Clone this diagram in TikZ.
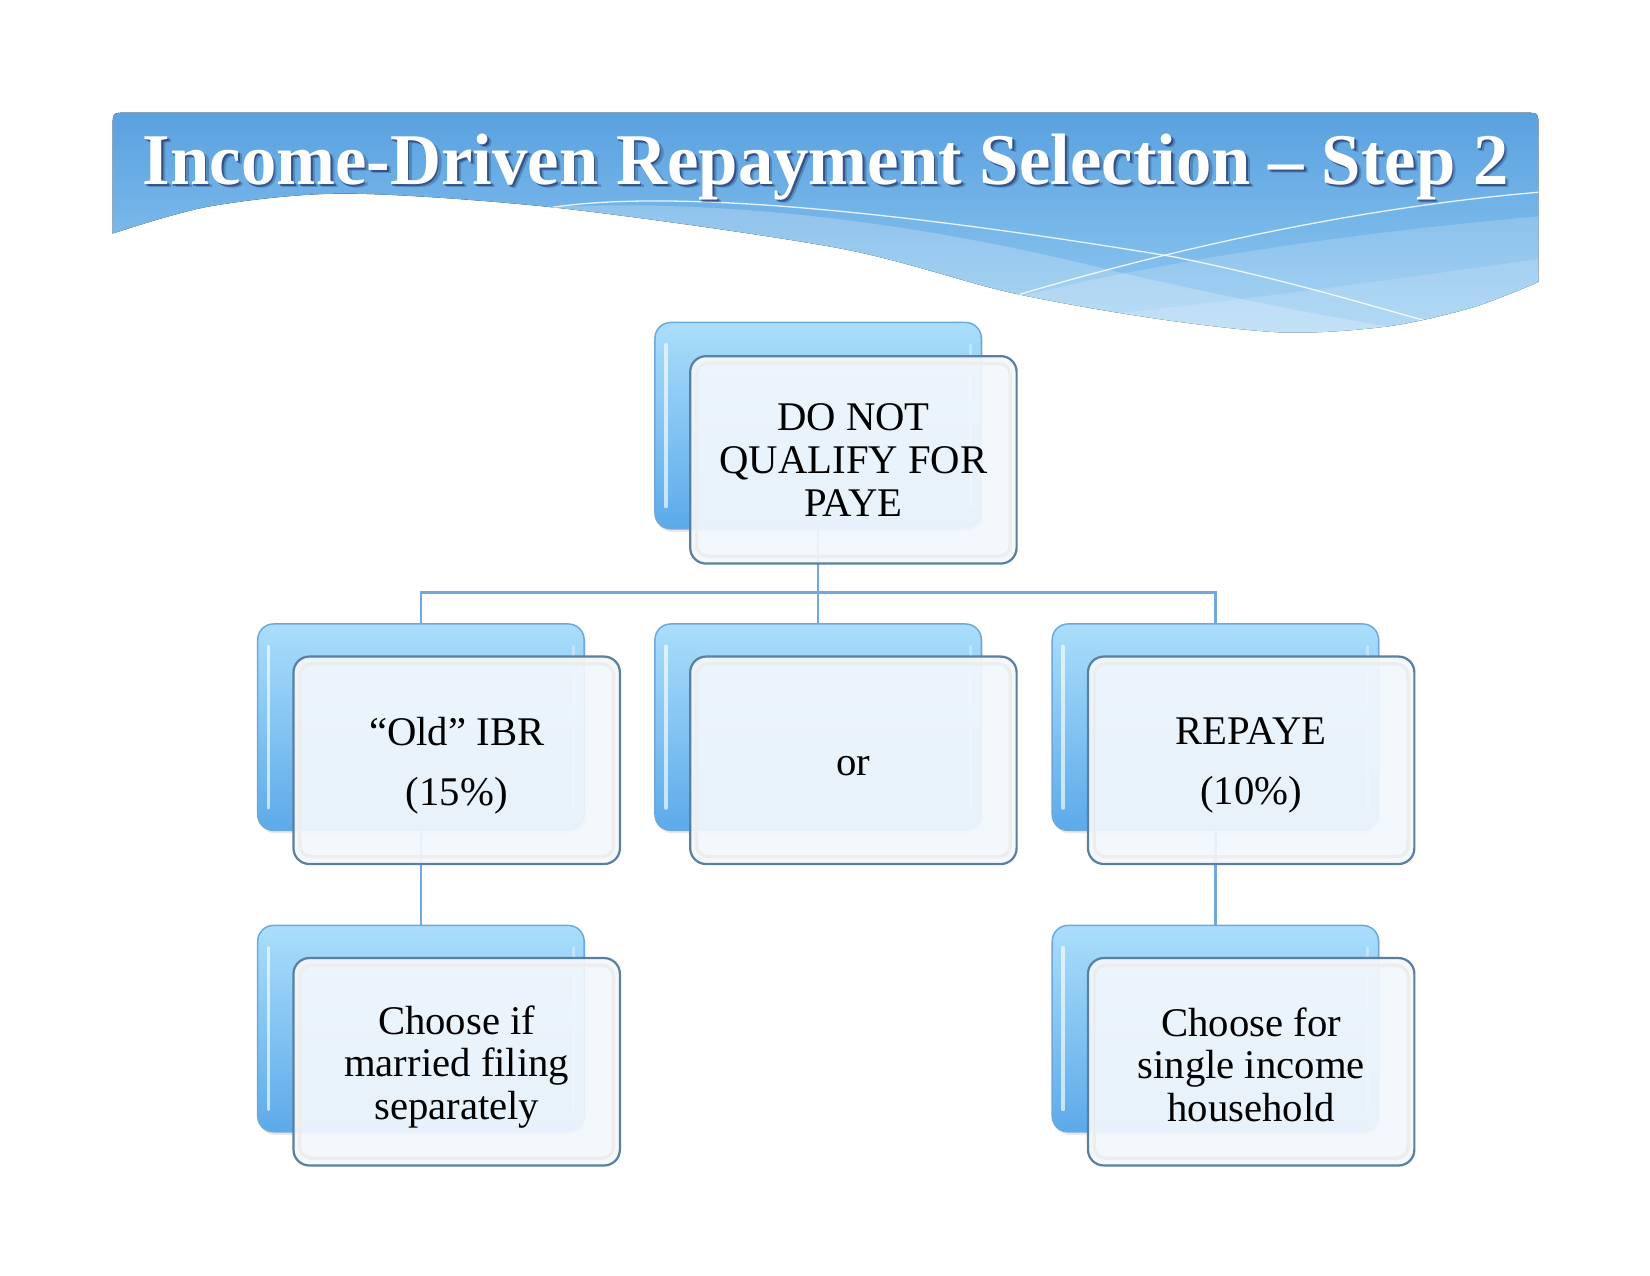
\documentclass[tikz,border=0pt]{standalone}
\usepackage{fontspec}
\setmainfont{Liberation Serif}
\usepackage{graphicx}
\usetikzlibrary{shadows,calc}
\pgfdeclarelayer{paper}
\pgfdeclarelayer{bg}
\pgfsetlayers{paper,bg,main}

\definecolor{bannerTop}{RGB}{88,160,223}
\definecolor{bannerBot}{RGB}{150,205,243}
\definecolor{backTop}{RGB}{170,222,251}
\definecolor{backBot}{RGB}{92,170,234}
\definecolor{backEdge}{RGB}{108,168,220}
\definecolor{frontFill}{RGB}{243,248,253}
\definecolor{frontEdge}{RGB}{92,126,160}
\definecolor{connC}{RGB}{112,170,220}
\newcommand{\bodyfnt}{\fontsize{11}{11.6}\selectfont}
\newcommand{\titletext}{\resizebox{12.97cm}{0.48cm}{\bfseries Income-Driven Repayment Selection – Step 2}}
\newcommand{\strutto}[1]{\rule{0pt}{#1}}

\tikzset{
  backbox/.style={rounded corners=0.15cm, minimum width=3.1cm, minimum height=1.96cm,
    top color=backTop, bottom color=backBot, draw=backEdge, line width=0.4pt, inner sep=0pt,
    drop shadow={opacity=0.18, shadow xshift=0.015cm, shadow yshift=-0.03cm}},
  frontbox/.style={rounded corners=0.15cm, minimum width=3.1cm, minimum height=1.97cm,
    fill=frontFill, fill opacity=0.92, text opacity=1, draw=frontEdge, line width=0.6pt,
    inner sep=0pt, align=center, font=\bodyfnt, text=black},
  conn/.style={draw=connC, line width=0.022cm},
  thinwave/.style={draw=white, line width=0.35pt, opacity=0.85}
}

\begin{document}
\begin{tikzpicture}[x=0.01cm,y=-0.01cm]
\useasboundingbox (0,0) rectangle (1568,1212);
\begin{pgfonlayer}{paper}
\fill[white] (0,0) rectangle (1568,1212);
\end{pgfonlayer}

% ---------- banner ----------
\begin{scope}
\clip (107,222) -- (107,121) .. controls (107,107) .. (121,107) -- (1448,107)
  .. controls (1462,107) .. (1462,121) -- (1462,268)
  -- plot[smooth] coordinates {(1462,268) (1400,292) (1320,310) (1221,316) (1100,303)
     (960,278) (798,236) (534,198) (330,184) (200,196) (107,222)} -- cycle;
\fill[top color=bannerTop, bottom color=bannerBot] (100,100) rectangle (1470,330);
% lighter bands
\fill[white, opacity=0.22] (470,200) .. controls (650,185) and (850,205) .. (1060,258)
  .. controls (1200,290) and (1350,320) .. (1470,330) -- (1470,340) -- (470,340) -- cycle;
\fill[white, opacity=0.18] (900,300) .. controls (1000,270) and (1200,228) .. (1470,205)
  -- (1470,340) -- (900,340) -- cycle;
\fill[white, opacity=0.15] (1000,304) .. controls (1150,290) and (1350,262) .. (1470,245)
  -- (1470,340) -- (1000,340) -- cycle;
% thin white lines
\draw[thinwave] (525,197) .. controls (640,180) and (850,200) .. (1115,244)
  .. controls (1220,265) and (1300,290) .. (1352,304);
\draw[thinwave] (948,286) .. controls (1050,255) and (1250,200) .. (1470,182);
\end{scope}

% title with shadow
\node[anchor=base west, inner sep=0pt, text=black, opacity=0.2] at (138.5,178.5) {\titletext};
\node[anchor=base west, inner sep=0pt, text=black!70!blue, opacity=0.4] at (136.5,176.8) {\titletext};
\node[anchor=base west, inner sep=0pt, text=white] (title) at (135,175) {\titletext};

% ---------- back boxes ----------
\node[backbox] (rootB) at (777.5,404.5) {};
\node[backbox] (ibrB)  at (400,691) {};
\node[backbox] (orB)   at (777.5,691) {};
\node[backbox] (repB)  at (1155,691) {};
\node[backbox] (selB)  at (400,977.5) {};
\node[backbox] (sinB)  at (1155,977.5) {};

\foreach \n in {rootB,ibrB,orB,repB,selB,sinB}{
  \draw[white, opacity=0.65, line width=0.035cm, line cap=round]
    ($(\n.north west)+(11,22)$) -- ($(\n.south west)+(11,-22)$);
  \draw[white, opacity=0.35, line width=0.03cm, line cap=round]
    ($(\n.north east)+(-11,22)$) -- ($(\n.south east)+(-11,-22)$);
}

% ---------- connectors (below boxes) ----------
\coordinate (hub) at (777.5,563);
\begin{pgfonlayer}{bg}
\draw[conn] (rootB.south) -- (hub);
\draw[conn] (ibrB.north) |- (hub);
\draw[conn] (hub) -| (repB.north);
\draw[conn] (hub) -- (orB.north);
\draw[conn] (ibrB.south) -- (selB.north);
\draw[conn] (repB.south) -- (sinB.north);
\end{pgfonlayer}

% ---------- front boxes ----------
\node[frontbox] (rootF) at (811,437) {DO NOT\\QUALIFY FOR\\PAYE};
\node[frontbox] (ibrF)  at (434,722.5) {\strutto{10.4pt}“Old” IBR\\[4.6pt](15\%)};
\node[frontbox] (orF)   at (811,722.5) {\strutto{8.6pt}or};
\node[frontbox] (repF)  at (1189,722.5) {\strutto{10.2pt}REPAYE\\[4.6pt](10\%)};
\node[frontbox] (selF)  at (434,1009) {\strutto{10.6pt}Choose if\\married filing\\separately};
\node[frontbox] (sinF)  at (1189,1009) {\strutto{9.4pt}Choose for\\single income\\household};

\foreach \n in {rootF,ibrF,orF,repF,selF,sinF}{
  \draw[black!7, line width=0.9pt, rounded corners=0.11cm]
    ($(\n.north west)+(7,8)$) rectangle ($(\n.south east)+(-7,-8)$);
}
\end{tikzpicture}
\end{document}
